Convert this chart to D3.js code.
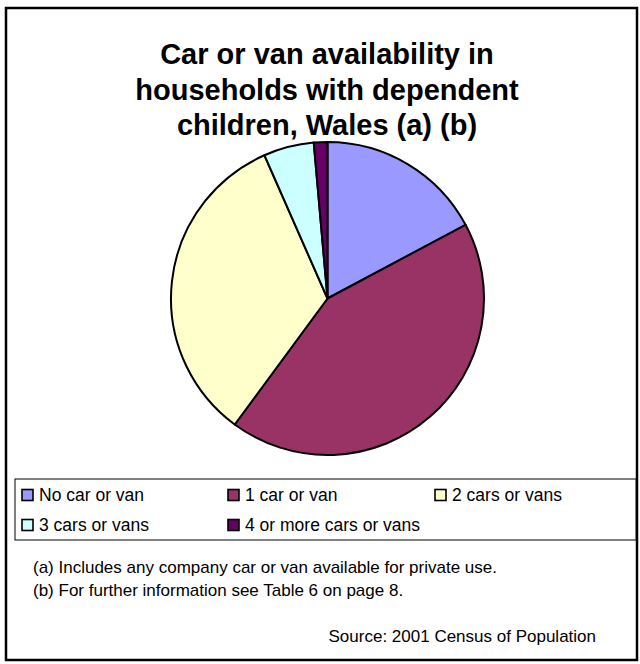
<!DOCTYPE html>
<html>
<head>
<meta charset="utf-8">
<script src="https://cdn.jsdelivr.net/npm/d3@7"></script>
<style>
  html, body { margin: 0; padding: 0; background: #fff; }
  svg { display: block; font-family: "Liberation Sans", Arial, sans-serif; }
</style>
</head>
<body>
<svg id="chart" width="640" height="664"></svg>
<script>
const titleLines = ["Car or van availability in", "households with dependent", "children, Wales (a) (b)"];
const categories = ["No car or van", "1 car or van", "2 cars or vans", "3 cars or vans", "4 or more cars or vans"];
const values = [17.2, 42.9, 33.3, 5.2, 1.4];
const colors = ["#9999FF", "#993366", "#FFFFCC", "#CCFFFF", "#660066"];
const footnotes = ["(a) Includes any company car or van available for private use.", "(b) For further information see Table 6 on page 8."];
const sourceText = "Source: 2001 Census of Population";

const svg = d3.select("#chart");

svg.append("rect")
  .attr("x", 6).attr("y", 8).attr("width", 631).attr("height", 652)
  .attr("fill", "#fff").attr("stroke", "#000").attr("stroke-width", 2.5);

svg.append("g").selectAll("text").data(titleLines).join("text")
  .attr("x", 327).attr("y", (d, i) => 64 + i * 35.5)
  .attr("text-anchor", "middle")
  .attr("font-size", 29).attr("font-weight", "bold")
  .text(d => d);

const cx = 327.5, cy = 298.5, r = 156.5;
const data = categories.map((c, i) => ({ name: c, value: values[i], color: colors[i] }));
const pie = d3.pie().sort(null).value(d => d.value);
const arc = d3.arc().innerRadius(0).outerRadius(r);

svg.append("g").attr("transform", `translate(${cx},${cy})`)
  .selectAll("path").data(pie(data)).join("path")
  .attr("d", arc)
  .attr("fill", d => d.data.color)
  .attr("stroke", "#000").attr("stroke-width", 2).attr("stroke-linejoin", "round");

// legend
svg.append("rect")
  .attr("x", 15).attr("y", 479).attr("width", 621).attr("height", 61)
  .attr("fill", "#fff").attr("stroke", "#000").attr("stroke-width", 1);

const colX = [22, 228, 435];
const rowY = [495, 525];
const leg = svg.append("g").selectAll("g").data(data).join("g")
  .attr("transform", (d, i) => `translate(${colX[i % 3]},${rowY[Math.floor(i / 3)]})`);
leg.append("rect")
  .attr("x", 0).attr("y", -5.5).attr("width", 11).attr("height", 11)
  .attr("fill", d => d.color).attr("stroke", "#000").attr("stroke-width", 1.6);
leg.append("text")
  .attr("x", 17).attr("y", 6)
  .attr("font-size", 17.5)
  .text(d => d.name);

svg.append("g").selectAll("text").data(footnotes).join("text")
  .attr("x", 33).attr("y", (d, i) => 573 + i * 23)
  .attr("font-size", 17)
  .text(d => d);

svg.append("text")
  .attr("x", 596).attr("y", 642)
  .attr("text-anchor", "end")
  .attr("font-size", 17)
  .text(sourceText);
</script>
</body>
</html>
